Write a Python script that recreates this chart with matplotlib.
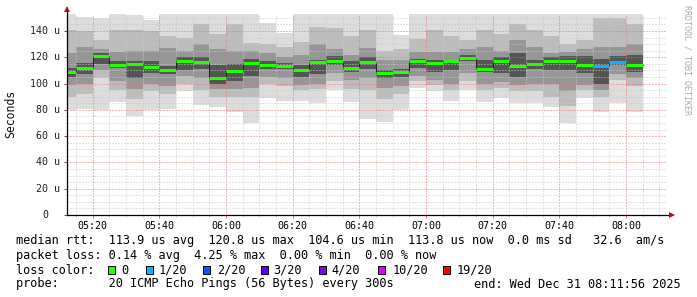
import datetime as dt
import numpy as np
import matplotlib
matplotlib.use("Agg")
import matplotlib.pyplot as plt
import matplotlib.dates as mdates
from matplotlib.patches import Rectangle
from matplotlib.transforms import ScaledTranslation

# start of each 5 minute bin
bin_start = ["05:10", "05:15", "05:20", "05:25", "05:30", "05:35", "05:40",
             "05:45", "05:50", "05:55", "06:00", "06:05", "06:10", "06:15",
             "06:20", "06:25", "06:30", "06:35", "06:40", "06:45", "06:50",
             "06:55", "07:00", "07:05", "07:10", "07:15", "07:20", "07:25",
             "07:30", "07:35", "07:40", "07:45", "07:50", "07:55", "08:00"]

# median rtt (us) and lost pings out of 20
median_us = [108.8, 111.9, 120.8, 114.2, 114.9, 112.6, 110.4, 117.4, 116.2, 104.6,
             109.5, 115.9, 114.4, 113.4, 110.1, 116.4, 117.4, 111.9, 116.4, 108.3,
             108.6, 117.0, 115.4, 117.0, 119.7, 111.4, 117.4, 113.4, 114.7, 117.2,
             117.2, 113.9, 113.6, 116.4, 113.8]
lost_pings = [0, 0, 0, 0, 0, 0, 0, 0, 0, 0, 0, 0, 0, 0, 0, 0, 0, 0, 0, 0,
              0, 0, 0, 0, 0, 0, 0, 0, 0, 0, 0, 0, 1, 1, 0]

# smoke: upper / lower edges of the ping spread, outer layer (1) to inner (4)
smoke_hi_1 = [160, 151, 150, 160, 152, 148, 160, 160, 160, 160, 160, 160, 146, 138.5,
              160, 160, 160, 160, 160, 160, 137, 160, 160, 160, 160, 160, 160, 160,
              160, 160, 160, 160, 160, 160, 160]
smoke_hi_2 = [141, 140, 133, 141, 141, 140, 136, 135, 145, 138, 145, 131, 130, 128,
              132, 143, 142, 136, 141, 125, 126, 134, 141, 136, 133, 141, 138, 145,
              141, 136, 130, 133, 150, 150, 145]
smoke_hi_3 = [123, 128, 126, 124, 125, 125, 127, 125, 130, 126, 125, 125, 123, 120,
              122, 130, 126, 122, 127, 118, 118, 124, 124, 124, 126, 128, 125, 133,
              128, 123, 124, 126, 128, 128, 130]
smoke_hi_4 = [112, 116, 123.5, 117, 117, 117, 113, 120, 120, 114, 115, 119, 117, 116,
              114, 118, 121, 117, 120, 110, 111, 119, 118, 118, 122, 118, 120, 123,
              118, 120, 121, 121, 119, 121, 122]
smoke_lo_4 = [105, 107, 115, 112, 104, 108, 107, 110, 111, 100, 102, 106, 111, 111,
              105, 107, 114, 109, 111, 104, 105, 112, 109, 110, 117, 109, 108, 105,
              111, 110, 110, 108, 100, 114, 109]
smoke_lo_3 = [99, 100, 110, 102, 96, 100, 98, 106, 104, 96, 96, 97, 105, 104,
              99, 100, 108, 103, 104, 97, 98, 106, 103, 100, 108, 100, 101, 99,
              100, 100, 94, 99, 95, 107, 104]
smoke_lo_2 = [90, 92, 104, 95, 88, 94, 92, 100, 95, 90, 90, 90, 100, 98,
              95, 96, 102, 96, 95, 88, 92, 102, 99, 95, 102, 95, 97, 94,
              94, 90, 83, 95, 90, 103, 98]
smoke_lo_1 = [80, 81, 80, 86, 75, 80, 81, 94, 84, 82, 78, 70, 89, 87,
              87, 85, 95, 86, 73, 71, 80, 97, 94, 87, 95, 86, 89, 85.5,
              85, 82, 70, 89, 78, 85.5, 78]

loss_levels = [0, 1, 2, 3, 4, 10, 19]
loss_colors = ["#26ff00", "#00b8ff", "#0059ff", "#5e00ff", "#7e00ff", "#dd00ff", "#ff0000"]
loss_labels = ["0", "1/20", "2/20", "3/20", "4/20", "10/20", "19/20"]

y_ticks = [0, 20, 40, 60, 80, 100, 120, 140]
y_tick_labels = ["0", "20 u", "40 u", "60 u", "80 u", "100 u", "120 u", "140 u"]

stats_rtt = "median rtt:  113.9 us avg  120.8 us max  104.6 us min  113.8 us now  0.0 ms sd   32.6  am/s"
stats_loss = "packet loss: 0.14 % avg  4.25 % max  0.00 % min  0.00 % now"
probe_text = "probe:       20 ICMP Echo Pings (56 Bytes) every 300s"
end_text = "end: Wed Dec 31 08:11:56 2025"

W, H = 697, 297
plt.rcParams["font.family"] = ["DejaVu Sans Mono"]


def fx(px):
    return px / W


def fy(py):
    return 1 - py / H


fig = plt.figure(figsize=(W / 100, H / 100), dpi=100, facecolor="white")
ax = fig.add_axes([fx(67), fy(215), 600 / W, (215 - 13.9) / H])
ax.set_facecolor("white")

day = dt.date(2025, 12, 31)
t = [dt.datetime.combine(day, dt.datetime.strptime(s, "%H:%M").time()) for s in bin_start]
x = mdates.date2num(t)
step = 5 / (24 * 60)
x_edges = np.append(x, x[-1] + step)


def ext(v):
    v = np.asarray(v, dtype=float)
    return np.append(v, v[-1])


# smoke layers, light outside -> dark near the median
layers = [(smoke_lo_1, smoke_hi_1, "#dcdcdc"),
          (smoke_lo_2, smoke_hi_2, "#bcbcbc"),
          (smoke_lo_3, smoke_hi_3, "#969696"),
          (smoke_lo_4, smoke_hi_4, "#555555")]
for lo, hi, col in layers:
    ax.fill_between(x_edges, ext(lo), ext(hi), step="post", color=col,
                    linewidth=0, zorder=1)

# median: thin dark step line + coloured segment per loss level
ax.step(x_edges, ext(median_us), where="post", color="#202020", lw=0.7, zorder=4)
for xi, m, lost in zip(x, median_us, lost_pings):
    ax.hlines(m, xi, xi + step, colors=loss_colors[loss_levels.index(lost)],
              lw=2.2, zorder=5)

t0 = dt.datetime(2025, 12, 31, 5, 12, 18)
ax.set_xlim(mdates.date2num(t0), mdates.date2num(t0 + dt.timedelta(hours=3)))
ax.set_ylim(0, 153)

ax.xaxis.set_major_locator(mdates.MinuteLocator(byminute=[0, 20, 40]))
ax.xaxis.set_minor_locator(mdates.MinuteLocator(byminute=[5, 10, 15, 25, 30, 35, 45, 50, 55]))
ax.xaxis.set_major_formatter(mdates.DateFormatter("%H:%M"))
ax.set_yticks(y_ticks)
ax.set_yticks([v for v in range(5, 155, 5) if v % 20], minor=True)

# dotted rrdtool grid, drawn over the smoke
ax.set_axisbelow(False)
ax.grid(which="minor", color="#c8c8c8", linestyle=(0, (1, 2)), linewidth=0.72)
ax.grid(which="major", color="#f07070", linestyle=(0, (1, 2)), linewidth=0.72)

for s in ax.spines.values():
    s.set_visible(False)

ax.tick_params(axis="x", which="major", length=2, width=0.7, color="#e07070",
               labelsize=7.2, pad=2.5)
ax.tick_params(axis="x", which="minor", length=1.5, width=0.7, color="#cccccc")
ax.tick_params(axis="y", which="major", length=2, width=0.7, color="#555555",
               labelleft=False)
ax.tick_params(axis="y", which="minor", length=0)

# y tick labels, rrdtool style
for v, lab in zip(y_ticks, y_tick_labels):
    off = -7 if lab != "0" else -18.7
    tr = ax.get_yaxis_transform() + ScaledTranslation(off / 100, 0, fig.dpi_scale_trans)
    ax.text(0, v, lab, transform=tr, ha="right", va="center", fontsize=7.2,
            color="#222222")

# axes with arrows
ax.plot([0, 1.004], [0, 0], transform=ax.transAxes, color="black", lw=0.9,
        clip_on=False, zorder=6)
ax.plot([0, 0], [0, 1.01], transform=ax.transAxes, color="black", lw=0.9,
        clip_on=False, zorder=6)
ax.plot([1.0075], [0], marker=">", ms=4.2, color="#a01818", mew=0,
        transform=ax.transAxes, clip_on=False, zorder=7)
ax.plot([0], [1.022], marker="^", ms=4.2, color="#a01818", mew=0,
        transform=ax.transAxes, clip_on=False, zorder=7)

fig.text(fx(10.5), fy(114), "Seconds", rotation=90, ha="center", va="center",
         fontsize=8.3, color="#111111")
fig.text(fx(686.5), fy(60), "RRDTOOL / TOBI OETIKER", rotation=270, ha="center",
         va="center", fontsize=6, color="#aaaaaa")

# legend block
fig.text(fx(16), fy(240.7), stats_rtt, ha="left", va="center", fontsize=8.55)
fig.text(fx(16), fy(255.7), stats_loss, ha="left", va="center", fontsize=8.55)
fig.text(fx(16), fy(270), "loss color:", ha="left", va="center", fontsize=8.55)
box_x = [107.7, 145.7, 203, 261, 319, 377.7, 442.7]
label_x = [121.7, 158.7, 216.7, 273, 331, 392.3, 457]
for bx, lx, col, lab in zip(box_x, label_x, loss_colors, loss_labels):
    fig.add_artist(Rectangle((fx(bx), fy(273.5)), 7.3 / W, 7.3 / H,
                             transform=fig.transFigure, facecolor=col,
                             edgecolor="black", linewidth=0.7))
    fig.text(fx(lx), fy(270), lab, ha="left", va="center", fontsize=8.55)
fig.text(fx(16), fy(284), probe_text, ha="left", va="center", fontsize=8.55)
fig.text(fx(680.5), fy(284), end_text, ha="right", va="center", fontsize=8.55)

fig.savefig("out.png", dpi=100, facecolor="white")
